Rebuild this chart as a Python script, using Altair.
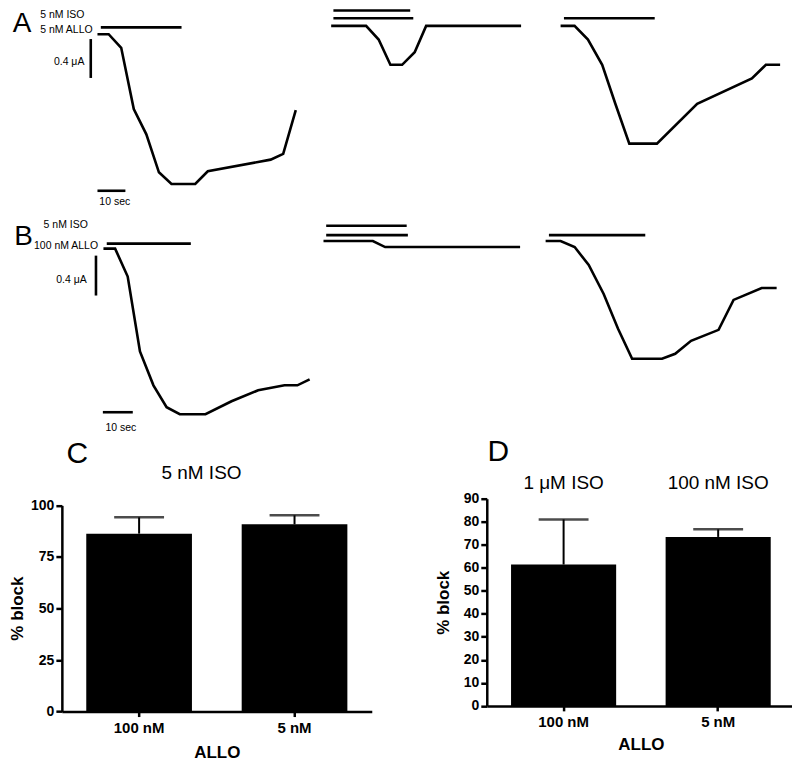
import altair as alt
import pandas as pd

FONT = "Liberation Sans"

# ---------------- Traces: time (s from trace start), current (µA relative to baseline)
a1_t = [0, 4, 8.5, 13, 17.5, 22, 26.5, 35, 39.5, 62, 66.5, 71]
a1_i = [0, 0, -0.14, -0.77, -1.03, -1.42, -1.54, -1.54, -1.41, -1.29, -1.23, -0.78]
a2_t = [0, 12.5, 17, 21.2, 25.4, 29.9, 34, 68]
a2_i = [0, 0, -0.14, -0.40, -0.40, -0.27, 0, 0]
a3_t = [0, 5, 9.8, 14.9, 19.6, 24.6, 34.5, 48.9, 68.5, 73.5, 78.6]
a3_i = [0, 0, -0.14, -0.40, -0.80, -1.21, -1.21, -0.80, -0.54, -0.40, -0.40]
b1_t = [0, 3.9, 8.1, 12.2, 16.7, 21.1, 25.5, 34.1, 42.8, 51.7, 60.5, 64.8, 68.9]
b1_i = [0, 0, -0.28, -1.03, -1.37, -1.59, -1.66, -1.66, -1.53, -1.42, -1.37, -1.37, -1.31]
b2_t = [0, 16.5, 20.6, 65.7]
b2_i = [0, 0, -0.06, -0.06]
b3_t = [0, 5, 9.7, 14.4, 19.4, 24.2, 28.9, 38.9, 43.3, 48.6, 57.8, 62.8, 72.2, 77.2]
b3_i = [0, 0, -0.06, -0.24, -0.53, -0.88, -1.18, -1.18, -1.13, -1.00, -0.89, -0.59, -0.47, -0.47]

# drug application bars and scale bars: (t_start, t_end, i_start, i_end)
a1_segs = [(1.2, 30.1, 0.07, 0.07), (-2.4, -2.4, -0.05, -0.45), (0, 10, -1.61, -1.61)]
a2_segs = [(0.8, 28.3, 0.159, 0.159), (0.8, 29.4, 0.079, 0.079)]
a3_segs = [(1.2, 33.7, 0.079, 0.079)]
b1_segs = [(1.1, 29.2, 0.05, 0.05), (-2.5, -2.5, -0.07, -0.47), (-0.2, 9.8, -1.64, -1.64)]
b2_segs = [(0.9, 27.8, 0.154, 0.154), (0.9, 28.2, 0.06, 0.06)]
b3_segs = [(1.1, 33.3, 0.06, 0.06)]

# labels: (text, t, i, align)
a1_texts = [("5 nM ISO", -20.5, 0.198, "left"), ("5 nM ALLO", -20.5, 0.041, "left"),
            ("0.4 μA", -15.6, -0.284, "left"), ("10 sec", 6.2, -1.73, "center")]
b1_texts = [("5 nM ISO", -20.0, 0.233, "left"), ("100 nM ALLO", -23.2, 0.026, "left"),
            ("0.4 μA", -15.8, -0.317, "left"), ("10 sec", 5.8, -1.797, "center")]

# ---------------- Bar panels
allo_cats = ["100 nM", "5 nM"]
c_vals = [86.3, 90.8]
c_err = [7.9, 4.4]
c_ticks = [0, 25, 50, 75, 100]
d_vals = [61.4, 73.4]
d_err = [19.6, 3.3]
d_ticks = [0, 10, 20, 30, 40, 50, 60, 70, 80, 90]
d_iso = ["1 μM ISO", "100 nM ISO"]

ROW_W = 784          # plot width of every row (page x 8..792)


def trace_layer(t, i, segs, top, H, x0, y0, pps, ppa, texts=(), letter=None):
    """One trace drawn with its own time/current scales spanning the whole row."""
    xs = alt.Scale(domain=[(8 - x0) / pps, (8 + ROW_W - x0) / pps], nice=False, zero=False)
    ys = alt.Scale(domain=[-(top + H - y0) / ppa, (y0 - top) / ppa], nice=False, zero=False)

    def X(f):
        return alt.X(f, type="quantitative", scale=xs, axis=None)

    def Y(f):
        return alt.Y(f, type="quantitative", scale=ys, axis=None)

    df = pd.DataFrame({"t": t, "i": i, "k": list(range(len(t)))})
    layers = [alt.Chart(df).mark_line(color="black", strokeWidth=2.6).encode(
        x=X("t"), y=Y("i"), order="k:Q")]
    sdf = pd.DataFrame(segs, columns=["t", "t2", "i", "i2"])
    layers.append(alt.Chart(sdf).mark_rule(color="black", strokeWidth=2.6).encode(
        x=X("t"), x2="t2:Q", y=Y("i"), y2="i2:Q"))
    for s, tt, ii, al in texts:
        tdf = pd.DataFrame({"s": [s], "t": [tt], "i": [ii]})
        layers.append(alt.Chart(tdf).mark_text(
            align=al, baseline="middle", fontSize=10.5, font=FONT, color="black").encode(
            x=X("t"), y=Y("i"), text="s:N"))
    if letter:
        s, px, py = letter
        layers.append(alt.Chart(pd.DataFrame({"s": [s]})).mark_text(
            align="center", baseline="middle", fontSize=28, font=FONT, color="black").encode(
            x=alt.value(px), y=alt.value(py), text="s:N"))
    return alt.layer(*layers)


A_TOP, A_H, A_PPS, A_PPA = 8, 212, 2.8, 97.5
B_TOP, B_H, B_PPS, B_PPA = 220, 278.3, 3.0, 100.0

rowA = alt.layer(
    trace_layer(a1_t, a1_i, a1_segs, A_TOP, A_H, 95.7, 33.3, A_PPS, A_PPA, a1_texts, ("A", 12, 15.5)),
    trace_layer(a2_t, a2_i, a2_segs, A_TOP, A_H, 330, 25, A_PPS, A_PPA),
    trace_layer(a3_t, a3_i, a3_segs, A_TOP, A_H, 560, 25, A_PPS, A_PPA),
).resolve_scale(x="independent", y="independent").properties(width=ROW_W, height=A_H)

rowB = alt.layer(
    trace_layer(b1_t, b1_i, b1_segs, B_TOP, B_H, 101.7, 248.3, B_PPS, B_PPA, b1_texts, ("B", 13.7, 17)),
    trace_layer(b2_t, b2_i, b2_segs, B_TOP, B_H, 322.3, 240.7, B_PPS, B_PPA),
    trace_layer(b3_t, b3_i, b3_segs, B_TOP, B_H, 545, 240.7, B_PPS, B_PPA),
).resolve_scale(x="independent", y="independent").properties(width=ROW_W, height=B_H)

CD_H = 258


def bar_layer(vals, errs, xr, yr, ytop, ticks, title_x, title_y, allo_y, labels, iso_texts):
    df = pd.DataFrame({"allo": allo_cats, "v": vals,
                       "hi": [v + e for v, e in zip(vals, errs)]})
    xsc = alt.Scale(domain=allo_cats, range=xr, paddingInner=0.32, paddingOuter=0.157)
    ysc = alt.Scale(domain=[0, ytop], range=yr, nice=False, zero=True)
    xaxis = alt.Axis(orient="bottom", offset=yr[0] - CD_H, domainColor="black", domainWidth=2.5,
                     tickColor="black", tickWidth=2.5, tickSize=5, labelAngle=0, labelFont=FONT,
                     labelFontSize=15, labelFontWeight="bold", labelColor="black", labelPadding=4,
                     title="ALLO", titleFont=FONT, titleFontSize=17, titleFontWeight="bold",
                     titleColor="black", titleY=allo_y, titleBaseline="middle")
    yaxis = alt.Axis(orient="left", offset=-xr[0], values=ticks, tickCount=len(ticks),
                     grid=False, domainColor="black",
                     domainWidth=2.5, tickColor="black", tickWidth=2.5, tickSize=6,
                     labelFont=FONT, labelFontSize=14, labelFontWeight="bold",
                     labelColor="black", labelPadding=2, labelOverlap=False,
                     title="% block", titleFont=FONT,
                     titleFontSize=17, titleFontWeight="bold", titleColor="black",
                     titleAngle=270, titleX=title_x, titleY=title_y, titleAlign="center",
                     titleBaseline="middle")
    X = alt.X("allo:N", scale=xsc, sort=allo_cats, axis=xaxis)
    base = alt.Chart(df)
    bars = base.mark_bar(color="black").encode(
        x=X, y=alt.Y("v:Q", scale=ysc, axis=yaxis))
    err = base.mark_rule(color="black", strokeWidth=2).encode(
        x=X, y=alt.Y("v:Q", scale=ysc, axis=yaxis), y2="hi:Q")
    caps = base.mark_tick(color="black", size=50, thickness=2.5).encode(
        x=X, y=alt.Y("hi:Q", scale=ysc, axis=yaxis))
    layers = [bars, err, caps]
    for s, px, py, fs in labels:
        layers.append(alt.Chart(pd.DataFrame({"s": [s]})).mark_text(
            align="center", baseline="middle", fontSize=fs, font=FONT, color="black").encode(
            x=alt.value(px), y=alt.value(py), text="s:N"))
    if iso_texts is not None:
        tdf = pd.DataFrame({"allo": allo_cats, "s": iso_texts})
        layers.append(alt.Chart(tdf).mark_text(
            align="center", baseline="middle", fontSize=19, font=FONT, color="black").encode(
            x=X, y=alt.value(-15.8), text="s:N"))
    return alt.layer(*layers)


panelC = bar_layer(c_vals, c_err, [52, 362.7], [213.4, 6.7], 100, c_ticks,
                   -44, 109.7, 41.3, [("C", 67.5, -45.3, 30), ("5 nM ISO", 192, -25.3, 19)], None)
panelD = bar_layer(d_vals, d_err, [478, 787], [207.7, 0], 90, d_ticks,
                   -43, 103.8, 39, [("D", 489.5, -47.3, 30)], d_iso)

rowCD = alt.layer(panelC, panelD).resolve_scale(
    x="independent", y="independent").resolve_axis(
    x="independent", y="independent").properties(width=ROW_W, height=CD_H)

chart = alt.vconcat(rowA, rowB, rowCD, spacing=0, bounds="flush").properties(
    padding=0).configure(font=FONT).configure_view(stroke=None)

chart.save("out.html", embed_options={"renderer": "svg", "actions": False})
